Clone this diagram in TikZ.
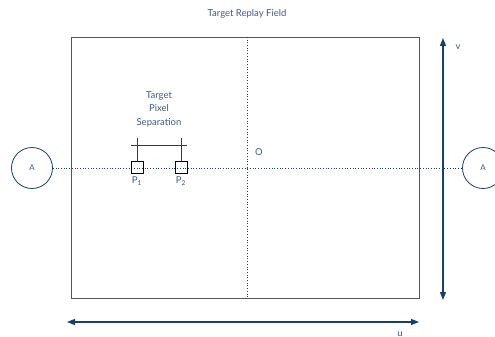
\documentclass[tikz,border=0pt]{standalone}
\usepackage{fontspec}
\setmainfont{Lato}
\usetikzlibrary{arrows.meta,positioning}
\definecolor{navy}{HTML}{17406D}
\definecolor{labelblue}{HTML}{3A5A85}
\definecolor{framegray}{HTML}{555555}

\begin{document}
\begin{tikzpicture}[x=1pt,y=-1pt,
    lbl/.style={text=labelblue,font=\fontsize{9.5}{13.5}\selectfont,inner sep=1pt},
    axis/.style={draw=navy,line width=1.3pt,{Triangle[length=8pt,width=6pt]}-{Triangle[length=8pt,width=6pt]}},
    guide/.style={draw=navy,dotted,line width=0.7pt},
    obs/.style={circle,draw=navy,line width=0.8pt,minimum size=41pt,inner sep=0pt,text=labelblue,font=\fontsize{8}{9}\selectfont},
    pix/.style={rectangle,draw=black,line width=0.7pt,minimum size=12pt,inner sep=0pt}]
  \useasboundingbox (0,0) rectangle (495,337);

  % title
  \node[lbl] (title) at (247,14) {Target Replay Field};

  % field frame
  \draw[framegray,line width=0.9pt] (71,37) rectangle (419,298);

  % observers
  \node[obs] (al) at (32,168) {A};
  \node[obs] (ar) at (483,168) {A};

  % centre lines
  \coordinate (vt) at (247,37);
  \coordinate (vb) at (247,298);
  \draw[guide] (vt) -- (vb);
  \draw[guide] (al) -- (ar);
  \node[lbl] (o) at (259,152) {O};

  % pixels and separation bar
  \foreach \n/\x/\i in {p1/137/1, p2/181/2} {
    \node[pix] (\n) at (\x,167) {};
    \coordinate (\n top) at (\x,138);
    \draw[navy,line width=0.8pt] (\n.north) -- (\n top);
    \node[lbl,below=2pt of \n] (\n lbl) {P\textsubscript{\i}};
  }
  \coordinate (sepl) at (131,145);
  \coordinate (sepr) at (187,145);
  \draw[navy,line width=0.8pt] (sepl) -- (sepr);
  \node[lbl,align=center] (sep) at (159,109) {Target\\Pixel\\Separation};

  % axes
  \coordinate (vtop) at (443,38);
  \coordinate (vbot) at (443,300);
  \draw[axis] (vtop) -- (vbot);
  \node[lbl] (v) at (458,47) {v};
  \coordinate (uleft) at (67,322);
  \coordinate (uright) at (419,322);
  \draw[axis] (uleft) -- (uright);
  \node[lbl] (u) at (400,334) {u};
\end{tikzpicture}
\end{document}
